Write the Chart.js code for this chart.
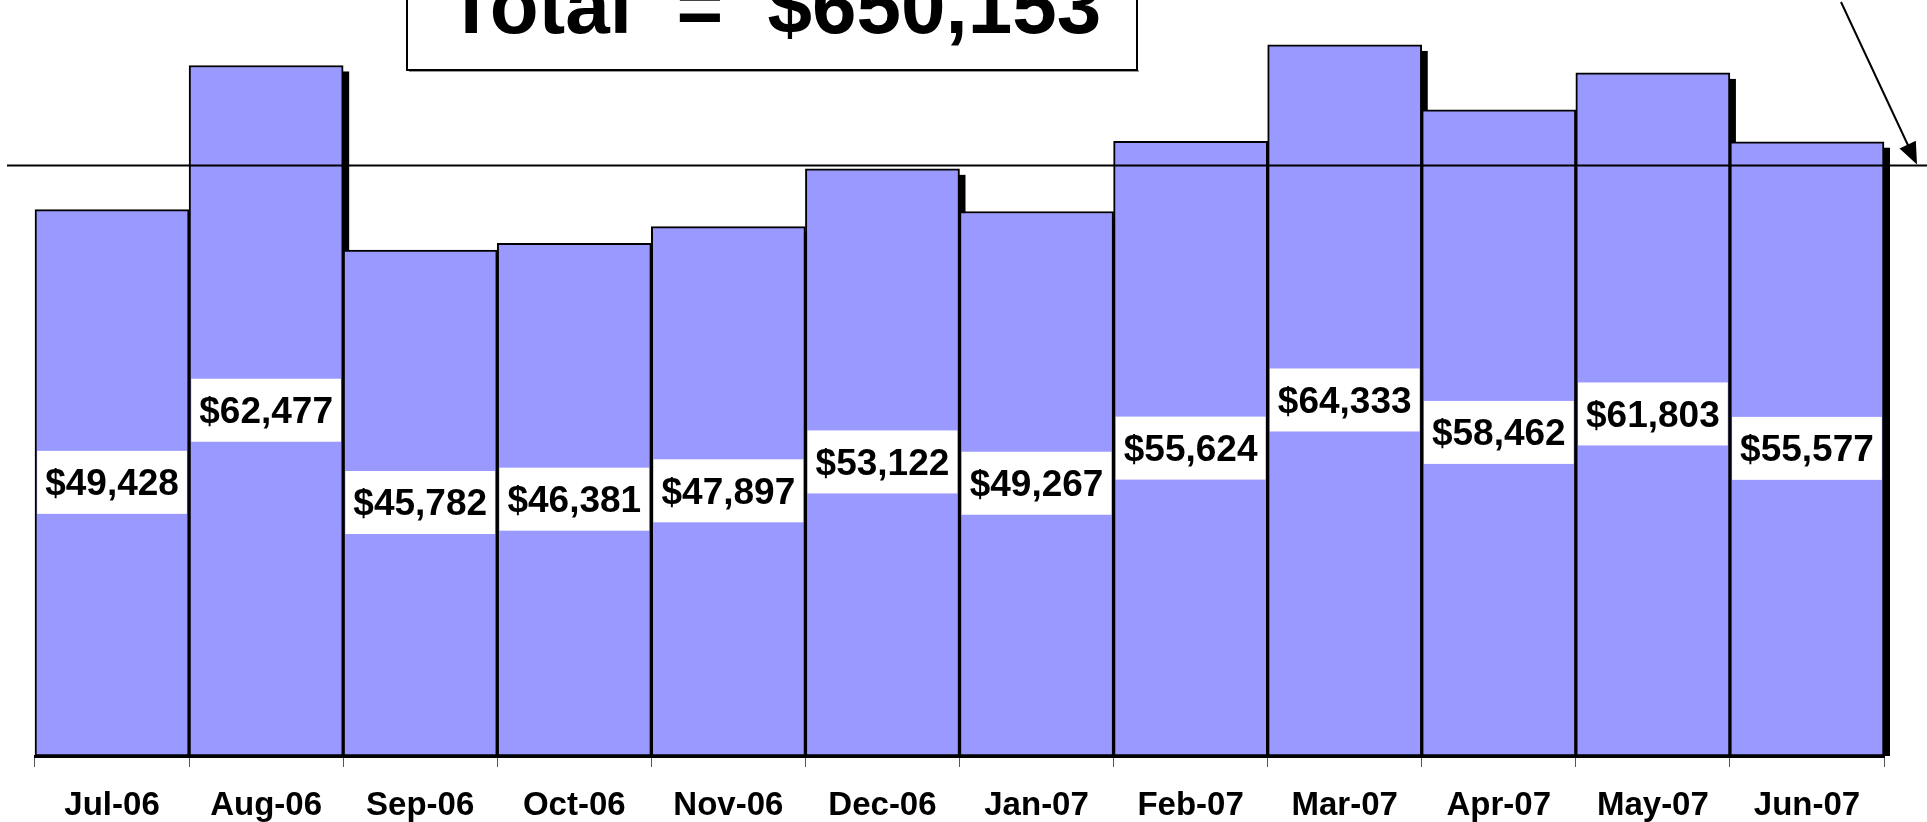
<!DOCTYPE html>
<html lang="en">
<head>
    <meta charset="UTF-8">
    <title>Monthly Total</title>
    <script src="https://cdn.jsdelivr.net/npm/chart.js"></script>
    <style>
        html, body {
            margin: 0;
            padding: 0;
            background: #fff;
        }
        canvas {
            display: block;
        }
    </style>
</head>
<body>
    <canvas id="chart" width="1927" height="822"></canvas>

    <script>
        // data
        const months = ['Jul-06', 'Aug-06', 'Sep-06', 'Oct-06', 'Nov-06', 'Dec-06',
                        'Jan-07', 'Feb-07', 'Mar-07', 'Apr-07', 'May-07', 'Jun-07'];
        const amounts = [49428, 62477, 45782, 46381, 47897, 53122,
                         49267, 55624, 64333, 58462, 61803, 55577];
        const refLine = [53430];
        const totalText = 'Total  =  $650,153';
        const yMax = 68400;

        const FONT = '"Liberation Sans", Arial, sans-serif';
        const money = v => '$' + v.toLocaleString('en-US');

        // black drop shadow behind every bar, drawn before the bars
        const shadowPlugin = {
            id: 'barShadow',
            beforeDatasetsDraw(chart) {
                const {ctx, chartArea} = chart;
                const meta = chart.getDatasetMeta(0);
                ctx.save();
                ctx.beginPath();
                ctx.rect(0, 0, chart.width, chartArea.bottom);
                ctx.clip();
                ctx.fillStyle = '#000';
                meta.data.forEach(bar => {
                    const w = bar.width;
                    ctx.fillRect(bar.x - w / 2 + 6, bar.y + 6, w, bar.base - bar.y);
                });
                ctx.restore();
            }
        };

        // reference line, value boxes, title box and arrow
        const overlayPlugin = {
            id: 'overlay',
            afterDatasetsDraw(chart) {
                const {ctx} = chart;
                const y = chart.scales.y;
                const ly = Math.round(y.getPixelForValue(refLine[0])) + 0.5;

                ctx.save();
                ctx.strokeStyle = '#000';
                ctx.lineWidth = 2;
                ctx.beginPath();
                ctx.moveTo(7, ly);
                ctx.lineTo(chart.width, ly);
                ctx.stroke();

                // value labels in white boxes
                const meta = chart.getDatasetMeta(0);
                ctx.font = 'bold 37px ' + FONT;
                ctx.textAlign = 'center';
                ctx.textBaseline = 'middle';
                meta.data.forEach((bar, i) => {
                    const txt = money(amounts[i]);
                    const cy = (bar.y + bar.base) / 2;
                    const tw = ctx.measureText(txt).width;
                    ctx.fillStyle = '#fff';
                    ctx.fillRect(bar.x - tw / 2 - 8, cy - 32, tw + 16, 63);
                    ctx.fillStyle = '#000';
                    ctx.fillText(txt, bar.x, cy + 2);
                });

                // title box
                ctx.fillStyle = '#999';
                ctx.fillRect(409, 70, 730, 2);
                ctx.fillStyle = '#fff';
                ctx.fillRect(407, -5, 730, 76);
                ctx.lineWidth = 2;
                ctx.strokeStyle = '#000';
                ctx.strokeRect(407, -5, 730, 75);
                ctx.fillStyle = '#000';
                ctx.font = 'bold 80px ' + FONT;
                ctx.textBaseline = 'alphabetic';
                ctx.fillText(totalText, 774, 33);

                // arrow pointing at the reference line
                const tipX = 1917, tipY = ly - 1;
                const sx = 1841, sy = 2;
                const ang = Math.atan2(tipY - sy, tipX - sx);
                const c = Math.cos(ang), s = Math.sin(ang);
                ctx.lineWidth = 2;
                ctx.beginPath();
                ctx.moveTo(sx, sy);
                ctx.lineTo(tipX - 16 * c, tipY - 16 * s);
                ctx.stroke();
                ctx.beginPath();
                ctx.moveTo(tipX, tipY);
                ctx.lineTo(tipX - 22 * c + 9 * s, tipY - 22 * s - 9 * c);
                ctx.lineTo(tipX - 22 * c - 9 * s, tipY - 22 * s + 9 * c);
                ctx.closePath();
                ctx.fill();
                ctx.restore();
            }
        };

        new Chart(document.getElementById('chart').getContext('2d'), {
            type: 'bar',
            data: {
                labels: months,
                datasets: [{
                    data: amounts,
                    backgroundColor: '#9999FF',
                    borderColor: '#000',
                    borderWidth: 2,
                    borderSkipped: false,
                    barPercentage: 1,
                    categoryPercentage: 1,
                    clip: false
                }]
            },
            options: {
                responsive: false,
                animation: false,
                devicePixelRatio: 1,
                layout: {
                    padding: {left: 35, right: 43, top: 0, bottom: 0}
                },
                plugins: {
                    legend: {display: false},
                    tooltip: {enabled: false}
                },
                scales: {
                    y: {
                        display: false,
                        min: 0,
                        max: yMax
                    },
                    x: {
                        afterFit: scale => { scale.height = 66; },
                        border: {display: true, color: '#000', width: 3},
                        grid: {
                            offset: true,
                            drawOnChartArea: false,
                            drawTicks: true,
                            tickLength: 11,
                            color: '#555',
                            lineWidth: 1
                        },
                        ticks: {
                            color: '#000',
                            font: {family: FONT, size: 33, weight: 'bold'},
                            padding: 19,
                            maxRotation: 0,
                            autoSkip: false
                        }
                    }
                }
            },
            plugins: [shadowPlugin, overlayPlugin]
        });
    </script>
</body>
</html>
